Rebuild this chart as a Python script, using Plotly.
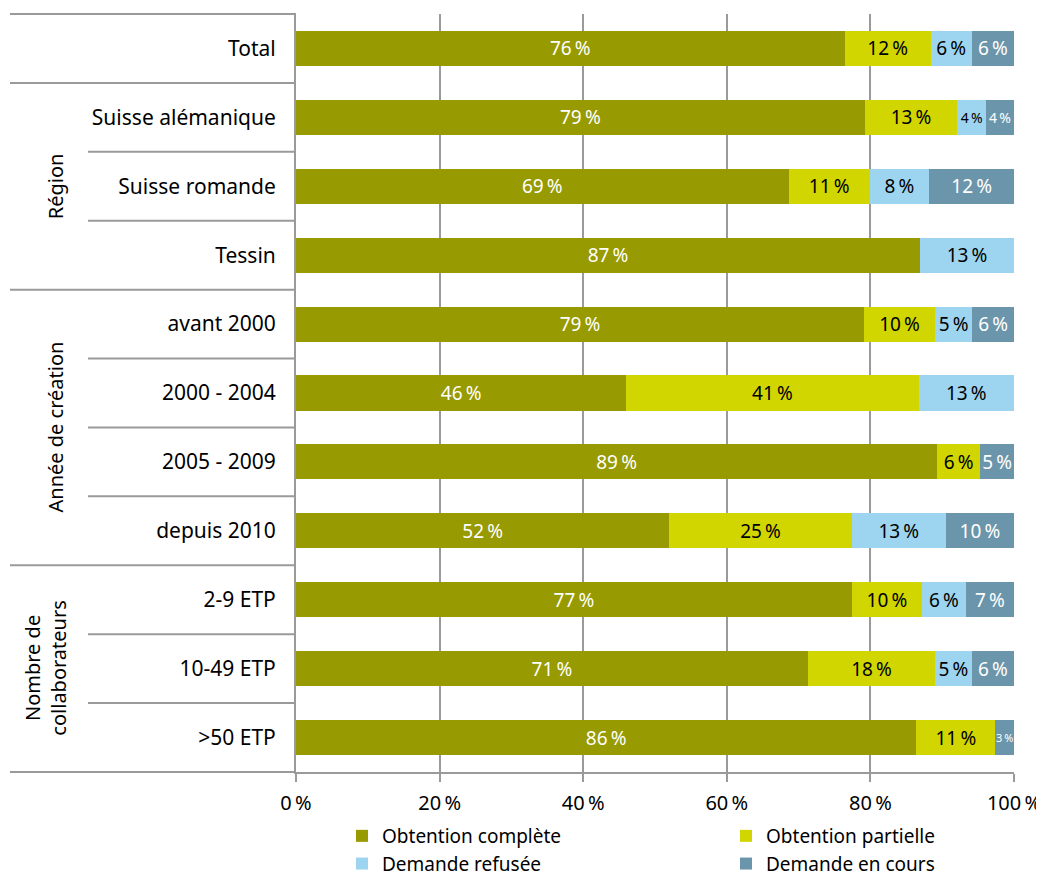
import plotly.graph_objects as go

categories = ["Total", "Suisse alémanique", "Suisse romande", "Tessin",
              "avant 2000", "2000 - 2004", "2005 - 2009", "depuis 2010",
              "2-9 ETP", "10-49 ETP", ">50 ETP"]
complete = [76.4, 79.2, 68.6, 86.9, 79.1, 46.0, 89.3, 52.0, 77.4, 71.3, 86.4]
partial = [12.0, 12.9, 11.3, 0, 9.9, 40.7, 6.0, 25.4, 9.8, 17.7, 11.0]
refused = [5.7, 4.0, 8.3, 13.1, 5.2, 13.3, 0, 13.1, 6.1, 5.1, 0]
en_cours = [5.9, 3.9, 11.8, 0, 5.8, 0, 4.7, 9.5, 6.7, 5.9, 2.6]

series_names = ["Obtention complète", "Obtention partielle", "Demande refusée", "Demande en cours"]
tick_vals = [0, 20, 40, 60, 80, 100]
tick_text = ["0\u2009%", "20\u2009%", "40\u2009%", "60\u2009%", "80\u2009%", "100\u2009%"]

groups = [("Région", 1, 4), ("Année de création", 4, 8), ("Nombre de<br>collaborateurs", 8, 11)]
full_breaks = [0, 1, 4, 8, 11]
short_breaks = [2, 3, 5, 6, 7, 9, 10]

colors = ["#979A00", "#D1D600", "#9DD5F0", "#6B95AA"]
text_colors = ["white", "black", "black", "white"]
legend_ids = ["legend", "legend2", "legend", "legend2"]

FONT = "Noto Sans"
GRAY = "#9a9a9a"

# the page adds an 8 px body margin; the figure is sized so that it fits the window
W, H = 1036, 874
ML, MR, MT, MB = 288, 30, 6, 110
PW = W - ML - MR
PH = H - MT - MB


def px_to_paper_x(px):
    return (px - ML) / PW


def label_sizes(vals):
    # smaller print for the narrowest segments, as in the original
    out = []
    for v in vals:
        if v < 3:
            out.append(11)
        elif v < 4.5:
            out.append(14)
        else:
            out.append(19)
    return out


fig = go.Figure()
for name, vals, col, tcol, lg in zip(series_names, [complete, partial, refused, en_cours],
                                     colors, text_colors, legend_ids):
    fig.add_trace(go.Bar(
        y=categories, x=vals, name=name, orientation="h",
        marker=dict(color=col, line=dict(width=0)),
        text=[f"{v:.0f}\u2009%" if v > 0 else "" for v in vals],
        textposition="inside", insidetextanchor="middle", textangle=0,
        constraintext="none",
        textfont=dict(color=tcol, size=label_sizes(vals), family=FONT),
        legend=lg, hoverinfo="skip",
    ))

n = len(categories)
shapes = []
L_full = px_to_paper_x(2)
L_short = px_to_paper_x(80)
for i in full_breaks:
    shapes.append(dict(type="line", xref="paper", yref="paper", x0=L_full, x1=0,
                       y0=1 - i / n, y1=1 - i / n, line=dict(color=GRAY, width=2)))
for i in short_breaks:
    shapes.append(dict(type="line", xref="paper", yref="paper", x0=L_short, x1=0,
                       y0=1 - i / n, y1=1 - i / n, line=dict(color=GRAY, width=2)))

annotations = []
for label, a, b in groups:
    xp = 47 if "<br>" not in label else 38
    annotations.append(dict(text=label, xref="paper", yref="paper",
                            x=px_to_paper_x(xp), y=1 - (a + b) / 2 / n,
                            textangle=-90, showarrow=False,
                            font=dict(size=20, family=FONT, color="black"),
                            xanchor="center", yanchor="middle"))

legend_common = dict(yanchor="top", xanchor="left", orientation="v",
                     font=dict(size=19, family=FONT), traceorder="normal",
                     itemwidth=30, tracegroupgap=0, bgcolor="rgba(0,0,0,0)",
                     y=-45 / PH)

fig.update_layout(
    width=W, height=H,
    margin=dict(l=ML, r=MR, t=MT, b=MB, autoexpand=False),
    barmode="stack", bargap=0.49,
    plot_bgcolor="white", paper_bgcolor="white",
    font=dict(family=FONT, size=20, color="black"),
    shapes=shapes, annotations=annotations,
    xaxis=dict(range=[0, 100], tickvals=tick_vals, ticktext=tick_text,
               showgrid=True, gridcolor=GRAY, gridwidth=2,
               showline=True, linecolor=GRAY, linewidth=2,
               ticks="outside", ticklen=8, tickcolor=GRAY, tickwidth=2,
               zeroline=False, automargin=False, ticklabelstandoff=4,
               tickfont=dict(size=20, family=FONT)),
    yaxis=dict(autorange="reversed", showline=True, linecolor=GRAY, linewidth=2,
               ticks="", ticklabelstandoff=14, showgrid=False, automargin=False,
               tickfont=dict(size=21, family=FONT)),
    legend=dict(x=px_to_paper_x(334), **legend_common),
    legend2=dict(x=px_to_paper_x(718), **legend_common),
    showlegend=True,
)

fig.write_html("out.html")
